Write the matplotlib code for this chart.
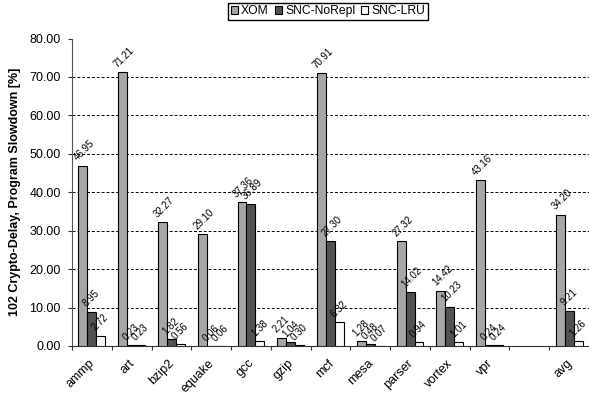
import matplotlib.pyplot as plt
import matplotlib.transforms as mtransforms
import numpy as np

plt.rcParams['font.family'] = ['Liberation Sans', 'DejaVu Sans']

# benchmarks (the empty slot sits between vpr and avg)
benchmarks = ["ammp", "art", "bzip2", "equake", "gcc", "gzip", "mcf",
              "mesa", "parser", "vortex", "vpr", "", "avg"]

xom = [46.95, 71.21, 32.27, 29.10, 37.36, 2.21, 70.91, 1.28, 27.32, 14.42, 43.16, None, 34.20]
snc_norepl = [8.95, 0.23, 1.82, 0.06, 36.89, 1.04, 27.30, 0.48, 14.02, 10.23, 0.24, None, 9.21]
snc_lru = [2.72, 0.23, 0.56, 0.06, 1.38, 0.30, 6.32, 0.07, 0.94, 1.01, 0.24, None, 1.26]

series = [("XOM", xom, "#a6a6a6"),
          ("SNC-NoRepl", snc_norepl, "#525252"),
          ("SNC-LRU", snc_lru, "#fafafa")]

fig = plt.figure(figsize=(5.89, 3.93), dpi=100)
ax = fig.add_axes([72 / 589, 1 - 346 / 393, 1 - 72 / 589, (346 - 38.5) / 393])

x = np.arange(len(benchmarks))
width = 0.225
for i, (name, vals, color) in enumerate(series):
    idx = [j for j, v in enumerate(vals) if v is not None]
    heights = [vals[j] for j in idx]
    pos = x[idx] + (i - 1) * width
    ax.bar(pos, heights, width, color=color, edgecolor="black",
           linewidth=0.8, label=name, zorder=3)
    for p, h in zip(pos, heights):
        ax.annotate(f"{h:.2f}", (p, h), xytext=(-2.5, 2), textcoords="offset points",
                    rotation=45, rotation_mode="anchor", ha="left", va="bottom",
                    fontsize=7, zorder=4)

ax.set_ylim(0, 80)
ax.set_xlim(-0.5, len(benchmarks) - 0.5)
ax.set_yticks(np.arange(0, 81, 10))
ax.set_yticklabels([f"{v:.2f}" for v in np.arange(0, 81, 10)], fontsize=9)
for y in range(10, 80, 10):
    ax.axhline(y, color="black", linestyle=(0, (3, 2)), linewidth=0.7, zorder=1)

# tick marks at group boundaries, labels at group centres
ax.set_xticks(np.arange(-0.5, len(benchmarks), 1.0))
ax.set_xticklabels([])
ax.set_xticks(x, minor=True)
ax.set_xticklabels(benchmarks, minor=True, rotation=45, ha="right",
                   rotation_mode="anchor", fontsize=9)
ax.tick_params(axis="x", which="minor", length=0, pad=8)
ax.tick_params(axis="x", which="major", length=3, width=0.8, color="#333333")
ax.tick_params(axis="y", length=3, width=0.8, pad=5, color="#333333")

shift = mtransforms.ScaledTranslation(-3 / 100, 0, fig.dpi_scale_trans)
for lbl in ax.get_xticklabels(minor=True):
    lbl.set_transform(lbl.get_transform() + shift)

for s in ("top", "right"):
    ax.spines[s].set_visible(False)
ax.spines["left"].set_color("#555555")
ax.spines["bottom"].set_color("#333333")

ax.set_ylabel("102 Crypto-Delay, Program Slowdown [%]", fontsize=9,
              fontweight="bold", labelpad=6)

fig.legend(loc="upper center", bbox_to_anchor=(328 / 589, 1 - 3 / 393), ncol=3,
           fontsize=8.7, handlelength=0.6, handleheight=0.6, handletextpad=0.25,
           columnspacing=0.5, borderpad=0.2, borderaxespad=0, fancybox=False,
           edgecolor="black", framealpha=1)

fig.savefig("out.png", dpi=100)
